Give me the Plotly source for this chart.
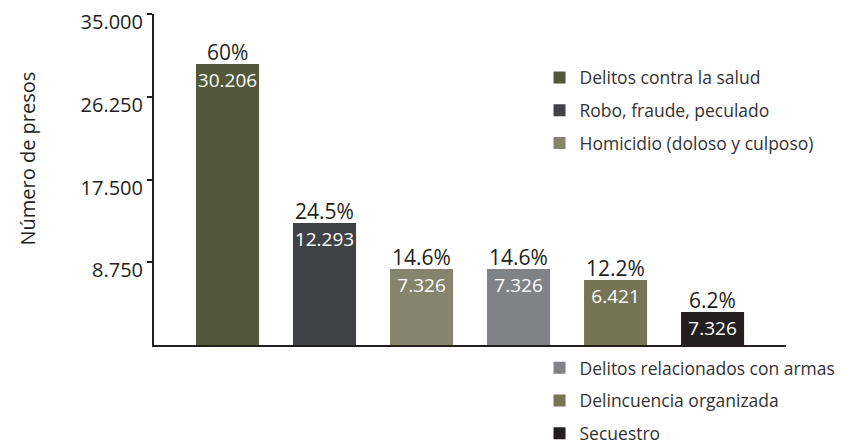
import plotly.graph_objects as go

categories = ["Delitos contra la salud", "Robo, fraude, peculado", "Homicidio (doloso y culposo)",
              "Delitos relacionados con armas", "Delincuencia organizada", "Secuestro"]
bar_heights = [29700, 12900, 8040, 8040, 6870, 3490]
value_labels = ["30.206", "12.293", "7.326", "7.326", "6.421", "7.326"]
pct_labels = ["60%", "24.5%", "14.6%", "14.6%", "12.2%", "6.2%"]
tick_vals = [8750, 17500, 26250, 35000]
tick_text = ["8.750", "17.500", "26.250", "35.000"]
colors = ["#525839", "#414245", "#85846c", "#818286", "#757556", "#231f20"]
legend_ids = ["legend", "legend", "legend", "legend2", "legend2", "legend2"]

FONT = "Open Sans"
fig = go.Figure()
for i, cat in enumerate(categories):
    fig.add_trace(go.Bar(
        x=[i], y=[bar_heights[i]], name=cat, marker=dict(color=colors[i], line=dict(width=0)),
        width=0.65, text=[value_labels[i]], textposition="inside", insidetextanchor="end",
        textangle=0, constraintext="none",
        textfont=dict(color="white", size=19, family=FONT),
        legend=legend_ids[i], legendgroup="g%d" % i, hoverinfo="skip",
    ))
    fig.add_annotation(x=i, y=bar_heights[i], text=pct_labels[i], showarrow=False,
                       yanchor="bottom", yshift=-4, font=dict(size=21, color="#231f20", family=FONT))

fig.add_annotation(xref="paper", yref="paper", x=-0.2, y=0.562, text="Número de presos",
                   textangle=-90, showarrow=False, xanchor="center", yanchor="middle",
                   font=dict(size=20, color="#231f20", family=FONT))

fig.update_layout(
    width=847, height=447, barmode="overlay",
    margin=dict(l=154, r=61, t=14, b=102, autoexpand=False),
    paper_bgcolor="white", plot_bgcolor="white",
    font=dict(family=FONT, color="#231f20"),
    xaxis=dict(range=[-0.758, 5.757], showticklabels=False, ticks="", showgrid=False,
               showline=True, linecolor="#231f20", linewidth=2, zeroline=False, fixedrange=True,
               automargin=False),
    yaxis=dict(range=[0, 35000], tickvals=tick_vals, ticktext=tick_text, ticks="outside",
               ticklen=5, tickwidth=2, tickcolor="#231f20", showgrid=False, showline=True,
               linecolor="#231f20", linewidth=2, zeroline=False, ticklabelstandoff=0,
               ticklabelshift=8, fixedrange=True,
               tickfont=dict(size=20, color="#231f20"), automargin=False),
    legend=dict(x=0.61, y=0.862, xanchor="left", yanchor="top", bgcolor="rgba(0,0,0,0)",
                font=dict(size=17.5, color="#333333"), traceorder="grouped", tracegroupgap=7,
                itemwidth=30),
    legend2=dict(x=0.61, y=-0.323, xanchor="left", yanchor="bottom", bgcolor="rgba(0,0,0,0)",
                 font=dict(size=17.5, color="#333333"), traceorder="grouped", tracegroupgap=7,
                 itemwidth=30),
)
fig.write_html("out.html", config={"displayModeBar": False},
               post_script="document.body.style.margin='0';")
